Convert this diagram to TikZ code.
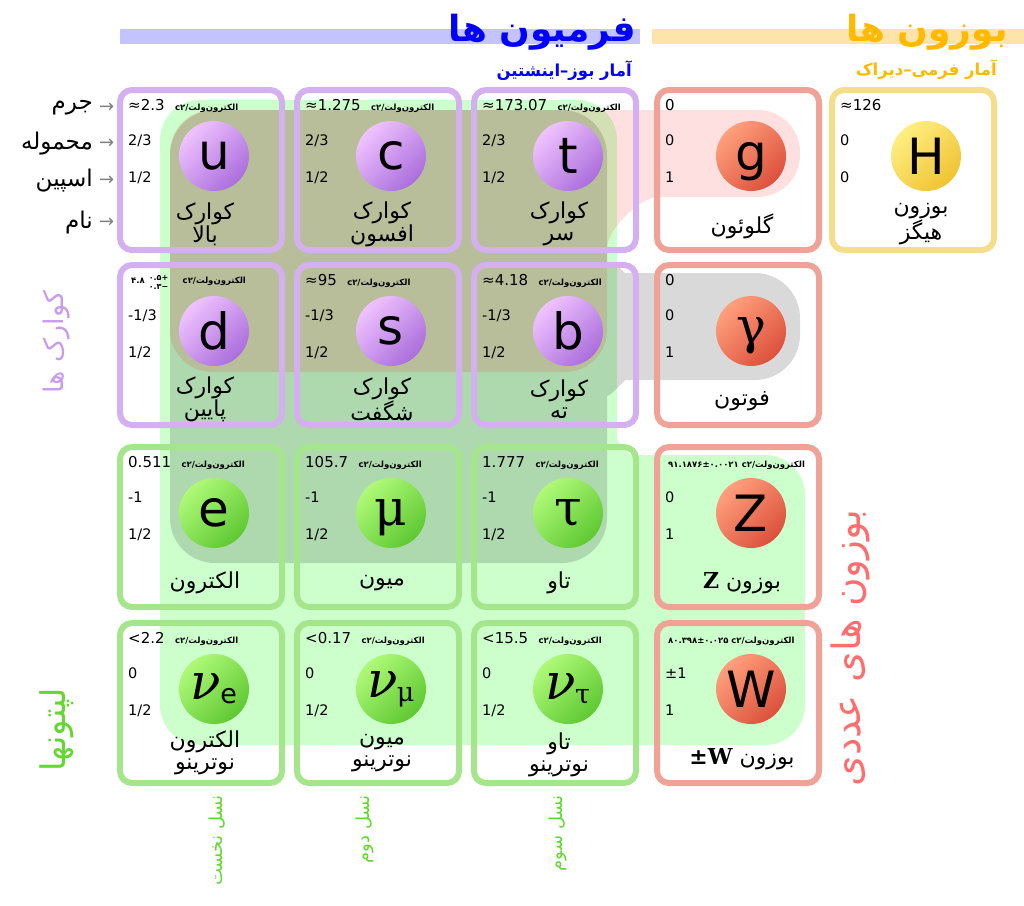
\documentclass[tikz,border=0pt]{standalone}
\usepackage{fontspec}
\setmainfont{DejaVu Sans}
\newfontfamily\fa[Script=Arabic]{DejaVu Sans}
\newfontfamily\grk{DejaVu Serif}
\TeXXeTstate=1
\usetikzlibrary{positioning}

\definecolor{quarkline}{RGB}{212,176,240}
\definecolor{leptonline}{RGB}{165,230,140}
\definecolor{gaugeline}{RGB}{240,162,150}
\definecolor{higgsline}{RGB}{244,222,140}
\definecolor{quarktop}{RGB}{240,195,255}
\definecolor{quarkbot}{RGB}{170,110,220}
\definecolor{leptontop}{RGB}{175,250,120}
\definecolor{leptonbot}{RGB}{95,200,50}
\definecolor{gaugetop}{RGB}{255,160,125}
\definecolor{gaugebot}{RGB}{220,80,60}
\definecolor{higgstop}{RGB}{255,238,130}
\definecolor{higgsbot}{RGB}{240,195,50}
\definecolor{fermblue}{RGB}{0,0,255}
\definecolor{fermbar}{RGB}{195,195,255}
\definecolor{bosonorange}{RGB}{255,185,0}
\definecolor{bosonbar}{RGB}{255,228,170}
\definecolor{quarklabel}{RGB}{200,155,240}
\definecolor{leptonlabel}{RGB}{100,215,50}
\definecolor{gaugelabel}{RGB}{255,110,110}
\definecolor{hintgray}{RGB}{128,128,128}

\newcommand\evunit{{\fa\bfseries c۲/\beginR الکترون^^^^200cولت\endR}}

\begin{document}
\begin{tikzpicture}[x=1pt, y=-1pt,
  card/.style={draw, rounded corners=12pt, line width=6pt, minimum width=162pt, minimum height=160pt, inner sep=0pt},
  qcard/.style={card, draw=quarkline}, lcard/.style={card, draw=leptonline},
  gcard/.style={card, draw=gaugeline}, hcard/.style={card, draw=higgsline},
  ball/.style={circle, minimum size=70pt, inner sep=-8pt, font=\fontsize{50}{50}\selectfont},
  qball/.style={ball, top color=quarktop, bottom color=quarkbot, shading angle=45},
  lball/.style={ball, top color=leptontop, bottom color=leptonbot, shading angle=45},
  gball/.style={ball, top color=gaugetop, bottom color=gaugebot, shading angle=45},
  hball/.style={ball, top color=higgstop, bottom color=higgsbot, shading angle=45},
  low/.style={text depth=0pt},
  mass/.style={anchor=base west, inner sep=0pt, font=\fontsize{15}{15}\selectfont},
  tiny/.style={anchor=base west, inner sep=0pt, font=\fa\bfseries\fontsize{8.5}{8.5}\selectfont},
  prop/.style={anchor=base west, inner sep=0pt, font=\fontsize{14.5}{15}\selectfont},
  pname/.style={align=center, inner sep=0pt, font=\fa\fontsize{22}{22}\selectfont},
  axis/.style={anchor=east, inner sep=0pt, font=\fa\fontsize{23}{23}\selectfont},
  hint/.style={inner sep=0pt, text=hintgray, font=\fontsize{18}{18}\selectfont},
  side/.style={rotate=90, inner sep=0pt, font=\fa\fontsize{27}{27}\selectfont},
  gen/.style={rotate=90, anchor=east, inner sep=0pt, text=leptonlabel, font=\fa\fontsize{18}{18}\selectfont},
  title/.style={anchor=east, inner sep=0pt, font=\fa\bfseries\fontsize{36}{36}\selectfont},
  subtitle/.style={anchor=east, inner sep=0pt, font=\fa\bfseries\fontsize{16.5}{16.5}\selectfont},
  weak/.style={fill=green, fill opacity=0.2},
  em/.style={fill=black, fill opacity=0.15},
  strong/.style={fill=red, fill opacity=0.12}]
\useasboundingbox (0,0) rectangle (1024,905);

% headings
\fill[fermbar] (120,29) rectangle (640,44);
\fill[bosonbar] (652,29) rectangle (1024,44);
\node[title, text=fermblue] (fermions) at (636,32) {\beginR فرمیون ها\endR};
\node[subtitle, text=fermblue] (fstat) at (632,71) {\beginR آمار بوز–اینشتین\endR};
\node[title, text=bosonorange] (bosons) at (1008,32) {\beginR بوزون ها\endR};
\node[subtitle, text=bosonorange] (bstat) at (997,70) {\beginR آمار فرمی–دیراک\endR};

% interactions
\fill[weak] [rounded corners=40] (160,100) -- (617,100) -- (617,400) .. controls (617,440) and (630,455) .. (670,455) -- (805,455) -- (805,745) -- (160,745) -- cycle;
\fill[em] [rounded corners=45] (170,110) -- (607,110) -- (607,220) .. controls (607,255) and (625,273) .. (670,273) -- (800,273) -- (800,380) -- (670,380) .. controls (625,380) and (607,400) .. (607,440) -- (607,563) -- (170,563) -- cycle;
\fill[strong] [rounded corners=42] (170,110) -- (800,110) -- (800,197) -- (700,197) .. controls (640,197) and (607,230) .. (607,290) -- (607,372) -- (170,372) -- cycle;

% cards
\node[qcard] (upq) at (201,170) {};
\node[qcard] (charmq) [right=9pt of upq] {};
\node[qcard] (topq) [right=9pt of charmq] {};
\node[gcard] (gluon) [right=15pt of topq] {};
\node[hcard] (higgs) [right=7pt of gluon] {};
\node[qcard] (downq) [below=9pt of upq] {};
\node[qcard] (strangeq) [below=9pt of charmq] {};
\node[qcard] (bottomq) [below=9pt of topq] {};
\node[gcard] (photon) [below=9pt of gluon] {};
\node[lcard] (electron) [below=16pt of downq] {};
\node[lcard] (muon) [below=16pt of strangeq] {};
\node[lcard] (tauon) [below=16pt of bottomq] {};
\node[gcard] (zbos) [below=16pt of photon] {};
\node[lcard] (nue) [below=10pt of electron] {};
\node[lcard] (numu) [below=10pt of muon] {};
\node[lcard] (nutau) [below=10pt of tauon] {};
\node[gcard] (wbos) [below=10pt of zbos] {};

% up
\node[qball] (upq-b) at ([shift={(13,-14)}]upq.center) {u};
\node[mass] (upq-m) at ([shift={(11,23)}]upq.north west) {≈2.3};
\node[tiny] (upq-u) [right=10pt of upq-m.base east, anchor=base west] {\evunit};
\node[prop] (upq-c) at ([shift={(11,58)}]upq.north west) {2/3};
\node[prop] (upq-s) at ([shift={(11,95)}]upq.north west) {1/2};
\node[pname] (upq-n) at ([shift={(88,137)}]upq.north west) {\beginR کوارک\endR\\\beginR بالا\endR};
% charm
\node[qball] (charmq-b) at ([shift={(13,-14)}]charmq.center) {c};
\node[mass] (charmq-m) at ([shift={(11,23)}]charmq.north west) {≈1.275};
\node[tiny] (charmq-u) [right=10pt of charmq-m.base east, anchor=base west] {\evunit};
\node[prop] (charmq-c) at ([shift={(11,58)}]charmq.north west) {2/3};
\node[prop] (charmq-s) at ([shift={(11,95)}]charmq.north west) {1/2};
\node[pname] (charmq-n) at ([shift={(88,137)}]charmq.north west) {\beginR کوارک\endR\\\beginR افسون\endR};
% top
\node[qball] (topq-b) at ([shift={(13,-14)}]topq.center) {t};
\node[mass] (topq-m) at ([shift={(11,23)}]topq.north west) {≈173.07};
\node[tiny] (topq-u) [right=10pt of topq-m.base east, anchor=base west] {\evunit};
\node[prop] (topq-c) at ([shift={(11,58)}]topq.north west) {2/3};
\node[prop] (topq-s) at ([shift={(11,95)}]topq.north west) {1/2};
\node[pname] (topq-n) at ([shift={(88,137)}]topq.north west) {\beginR کوارک\endR\\\beginR سر\endR};
% gluon
\node[gball, low] (gluon-b) at ([shift={(13,-14)}]gluon.center) {g};
\node[mass] (gluon-m) at ([shift={(11,23)}]gluon.north west) {0};
\node[prop] (gluon-c) at ([shift={(11,58)}]gluon.north west) {0};
\node[prop] (gluon-s) at ([shift={(11,95)}]gluon.north west) {1};
\node[pname] (gluon-n) at ([shift={(88,139)}]gluon.north west) {\beginR گلوئون\endR};
% higgs
\node[hball] (higgs-b) at ([shift={(13,-14)}]higgs.center) {H};
\node[mass] (higgs-m) at ([shift={(11,23)}]higgs.north west) {≈126};
\node[prop] (higgs-c) at ([shift={(11,58)}]higgs.north west) {0};
\node[prop] (higgs-s) at ([shift={(11,95)}]higgs.north west) {0};
\node[pname] (higgs-n) at ([shift={(92,137)}]higgs.north west) {\beginR بوزون\endR\\\beginR هیگز\endR};

% down
\node[qball] (downq-b) at ([shift={(13,-14)}]downq.center) {d};
\node[tiny] (downq-m) at ([shift={(14,21)}]downq.north west) {۴.۸\hspace{4pt}\raisebox{-6pt}{\fontsize{8}{7}\selectfont\shortstack[l]{+۰.۵\\−۰.۳}}};
\node[tiny] (downq-u) [right=14pt of downq-m.base east, anchor=base west] {\evunit};
\node[prop] (downq-c) at ([shift={(11,58)}]downq.north west) {-1/3};
\node[prop] (downq-s) at ([shift={(11,95)}]downq.north west) {1/2};
\node[pname] (downq-n) at ([shift={(88,137)}]downq.north west) {\beginR کوارک\endR\\\beginR پایین\endR};
% strange
\node[qball] (strangeq-b) at ([shift={(13,-14)}]strangeq.center) {s};
\node[mass] (strangeq-m) at ([shift={(11,23)}]strangeq.north west) {≈95};
\node[tiny] (strangeq-u) [right=10pt of strangeq-m.base east, anchor=base west] {\evunit};
\node[prop] (strangeq-c) at ([shift={(11,58)}]strangeq.north west) {-1/3};
\node[prop] (strangeq-s) at ([shift={(11,95)}]strangeq.north west) {1/2};
\node[pname] (strangeq-n) at ([shift={(88,137)}]strangeq.north west) {\beginR کوارک\endR\\\beginR شگفت\endR};
% bottom
\node[qball] (bottomq-b) at ([shift={(13,-14)}]bottomq.center) {b};
\node[mass] (bottomq-m) at ([shift={(11,23)}]bottomq.north west) {≈4.18};
\node[tiny] (bottomq-u) [right=10pt of bottomq-m.base east, anchor=base west] {\evunit};
\node[prop] (bottomq-c) at ([shift={(11,58)}]bottomq.north west) {-1/3};
\node[prop] (bottomq-s) at ([shift={(11,95)}]bottomq.north west) {1/2};
\node[pname] (bottomq-n) at ([shift={(88,137)}]bottomq.north west) {\beginR کوارک\endR\\\beginR ته\endR};
% photon
\node[gball, low] (photon-b) at ([shift={(13,-14)}]photon.center) {\grk γ};
\node[mass] (photon-m) at ([shift={(11,23)}]photon.north west) {0};
\node[prop] (photon-c) at ([shift={(11,58)}]photon.north west) {0};
\node[prop] (photon-s) at ([shift={(11,95)}]photon.north west) {1};
\node[pname] (photon-n) at ([shift={(88,139)}]photon.north west) {\beginR فوتون\endR};

% electron
\node[lball] (electron-b) at ([shift={(13,-14)}]electron.center) {e};
\node[mass] (electron-m) at ([shift={(11,23)}]electron.north west) {0.511};
\node[tiny] (electron-u) [right=10pt of electron-m.base east, anchor=base west] {\evunit};
\node[prop] (electron-c) at ([shift={(11,58)}]electron.north west) {-1};
\node[prop] (electron-s) at ([shift={(11,95)}]electron.north west) {1/2};
\node[pname] (electron-n) at ([shift={(88,139)}]electron.north west) {\beginR الکترون\endR};
% muon
\node[lball, low] (muon-b) at ([shift={(13,-14)}]muon.center) {\grk μ};
\node[mass] (muon-m) at ([shift={(11,23)}]muon.north west) {105.7};
\node[tiny] (muon-u) [right=10pt of muon-m.base east, anchor=base west] {\evunit};
\node[prop] (muon-c) at ([shift={(11,58)}]muon.north west) {-1};
\node[prop] (muon-s) at ([shift={(11,95)}]muon.north west) {1/2};
\node[pname] (muon-n) at ([shift={(88,139)}]muon.north west) {\beginR میون\endR};
% tau
\node[lball] (tauon-b) at ([shift={(13,-14)}]tauon.center) {\grk τ};
\node[mass] (tauon-m) at ([shift={(11,23)}]tauon.north west) {1.777};
\node[tiny] (tauon-u) [right=10pt of tauon-m.base east, anchor=base west] {\evunit};
\node[prop] (tauon-c) at ([shift={(11,58)}]tauon.north west) {-1};
\node[prop] (tauon-s) at ([shift={(11,95)}]tauon.north west) {1/2};
\node[pname] (tauon-n) at ([shift={(88,139)}]tauon.north west) {\beginR تاو\endR};
% Z
\node[gball] (zbos-b) at ([shift={(13,-14)}]zbos.center) {Z};
\node[tiny] (zbos-m) at ([shift={(14,23)}]zbos.north west) {۹۱.۱۸۷۶±۰.۰۰۲۱ \evunit};
\node[prop] (zbos-c) at ([shift={(11,58)}]zbos.north west) {0};
\node[prop] (zbos-s) at ([shift={(11,95)}]zbos.north west) {1};
\node[pname] (zbos-n) at ([shift={(88,139)}]zbos.north west) {{\grk\bfseries Z}\ \beginR بوزون\endR};

% neutrinos
\node[lball] (nue-b) at ([shift={(13,-14)}]nue.center) {{\grk\itshape ν}\kern-1pt\raisebox{-4pt}{\fontsize{27}{27}\selectfont e}};
\node[mass] (nue-m) at ([shift={(11,23)}]nue.north west) {<2.2};
\node[tiny] (nue-u) [right=10pt of nue-m.base east, anchor=base west] {\evunit};
\node[prop] (nue-c) at ([shift={(11,58)}]nue.north west) {0};
\node[prop] (nue-s) at ([shift={(11,95)}]nue.north west) {1/2};
\node[pname] (nue-n) at ([shift={(88,133)}]nue.north west) {\beginR الکترون\endR\\\beginR نوترینو\endR};
\node[lball] (numu-b) at ([shift={(13,-14)}]numu.center) {{\grk\itshape ν}\kern-1pt\raisebox{-4pt}{\fontsize{27}{27}\selectfont\grk μ}};
\node[mass] (numu-m) at ([shift={(11,23)}]numu.north west) {<0.17};
\node[tiny] (numu-u) [right=10pt of numu-m.base east, anchor=base west] {\evunit};
\node[prop] (numu-c) at ([shift={(11,58)}]numu.north west) {0};
\node[prop] (numu-s) at ([shift={(11,95)}]numu.north west) {1/2};
\node[pname] (numu-n) at ([shift={(88,133)}]numu.north west) {\beginR میون\endR\\\beginR نوترینو\endR};
\node[lball] (nutau-b) at ([shift={(13,-14)}]nutau.center) {{\grk\itshape ν}\kern-1pt\raisebox{-4pt}{\fontsize{27}{27}\selectfont\grk τ}};
\node[mass] (nutau-m) at ([shift={(11,23)}]nutau.north west) {<15.5};
\node[tiny] (nutau-u) [right=10pt of nutau-m.base east, anchor=base west] {\evunit};
\node[prop] (nutau-c) at ([shift={(11,58)}]nutau.north west) {0};
\node[prop] (nutau-s) at ([shift={(11,95)}]nutau.north west) {1/2};
\node[pname] (nutau-n) at ([shift={(88,135)}]nutau.north west) {\beginR تاو\endR\\\beginR نوترینو\endR};
% W
\node[gball] (wbos-b) at ([shift={(13,-14)}]wbos.center) {W};
\node[tiny] (wbos-m) at ([shift={(14,23)}]wbos.north west) {۸۰.۳۹۸±۰.۰۲۵ \evunit};
\node[prop] (wbos-c) at ([shift={(11,58)}]wbos.north west) {±1};
\node[prop] (wbos-s) at ([shift={(11,95)}]wbos.north west) {1};
\node[pname] (wbos-n) at ([shift={(88,139)}]wbos.north west) {{\grk\bfseries ±W}\ \beginR بوزون\endR};

% row captions
\node[axis] (lmass) at (93,108) {\beginR جرم\endR};
\node[axis] (lcharge) at (93,144) {\beginR محموله\endR};
\node[axis] (lspin) at (93,181) {\beginR اسپین\endR};
\node[axis] (lname) at (93,223) {\beginR نام\endR};
\node[hint] (amass) [right=6pt of lmass] {→};
\node[hint] (acharge) [right=6pt of lcharge] {→};
\node[hint] (aspin) [right=6pt of lspin] {→};
\node[hint] (aname) [right=6pt of lname] {→};

% group captions
\node[side, text=quarklabel] (quarks) at (57,342) {\beginR کوارک ها\endR};
\node[side, text=leptonlabel, font=\fa\fontsize{34}{34}\selectfont] (leptons) at (57,730) {\beginR لپتونها\endR};
\node[side, text=gaugelabel, font=\fa\fontsize{39}{39}\selectfont] (gauge) at (850,648) {\beginR بوزون های عددی\endR};
\node[gen] (gen1) at (217,795) {\beginR نسل نخست\endR};
\node[gen] (gen2) at (365,795) {\beginR نسل دوم\endR};
\node[gen] (gen3) at (558,795) {\beginR نسل سوم\endR};
\end{tikzpicture}
\end{document}
